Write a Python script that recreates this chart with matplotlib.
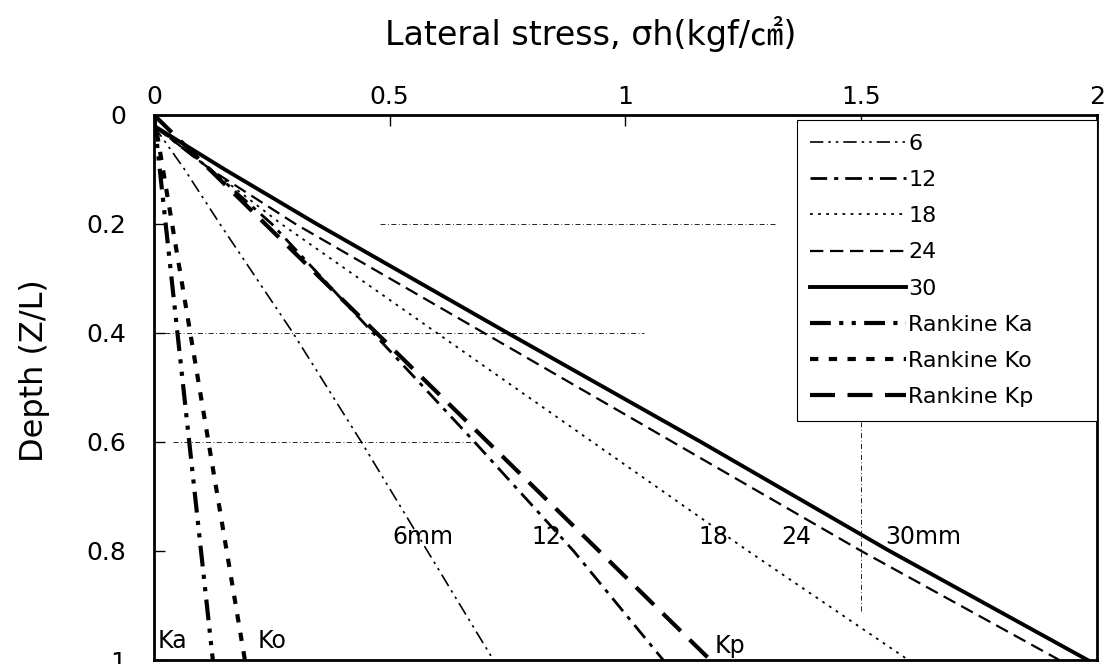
import matplotlib
matplotlib.use("Agg")
import matplotlib.pyplot as plt

plt.rcParams['font.family'] = ['DejaVu Sans', 'Noto Sans CJK KR']

# depth ratio Z/L where the measured profiles were read
depth = [0.02, 0.1, 0.2, 0.4, 0.6, 0.8, 1.0]
# lateral stress (kgf/cm2) per wall displacement (mm)
s6 = [0.0, 0.065, 0.14, 0.295, 0.44, 0.58, 0.72]
s12 = [0.0, 0.12, 0.25, 0.465, 0.68, 0.89, 1.08]
s18 = [0.0, 0.12, 0.27, 0.60, 0.93, 1.26, 1.60]
s24 = [0.0, 0.12, 0.30, 0.70, 1.10, 1.50, 1.92]
s30 = [0.0, 0.15, 0.345, 0.75, 1.16, 1.56, 1.98]

# Rankine earth pressure lines
rk_depth = [0.0, 1.0]
ka = [0.0, 0.125]
ko = [0.0, 0.193]
kp = [0.0, 1.18]

fig = plt.figure(figsize=(11.07, 6.64), dpi=100)
ax = fig.add_axes([0.139, 0.006, 0.852, 0.821])

ax.plot(s6, depth, color='black', lw=1.2, ls=(0, (8, 3, 1.5, 3, 1.5, 3)), label='6')
ax.plot(s12, depth, color='black', lw=2.0, ls=(0, (6, 2.5, 1.5, 2.5)), label='12')
ax.plot(s18, depth, color='black', lw=1.3, ls=(0, (1.5, 3)), label='18')
ax.plot(s24, depth, color='black', lw=1.6, ls=(0, (6, 3)), label='24')
ax.plot(s30, depth, color='black', lw=2.8, ls='-', label='30')
ax.plot(ka, rk_depth, color='black', lw=3.0, ls=(0, (5, 2, 1, 2, 1, 2)), label='Rankine Ka')
ax.plot(ko, rk_depth, color='black', lw=3.0, ls=(0, (2, 2.5)), label='Rankine Ko')
ax.plot(kp, rk_depth, color='black', lw=3.0, ls=(0, (6, 3)), label='Rankine Kp')

# faint broken grid pieces as in the scanned figure
gkw = dict(color='black', lw=0.6, ls=(0, (6, 3, 1, 3)))
ax.axhline(0.2, xmin=0.24, xmax=0.66, **gkw)
ax.axhline(0.4, xmin=0.0, xmax=0.52, **gkw)
ax.axhline(0.6, xmin=0.02, xmax=0.34, **gkw)
ax.axvline(1.5, ymin=0.09, ymax=0.44, **gkw)

ax.set_xlim(0, 2)
ax.set_ylim(1, 0)
ax.xaxis.tick_top()
ax.xaxis.set_label_position('top')
ax.set_xticks([0, 0.5, 1, 1.5, 2])
ax.set_xticklabels(['0', '0.5', '1', '1.5', '2'])
ax.set_yticks([0, 0.2, 0.4, 0.6, 0.8, 1])
ax.set_yticklabels(['0', '0.2', '0.4', '0.6', '0.8', '1'])
ax.tick_params(axis='x', direction='in', length=8, width=1, pad=4, labelsize=18)
ax.tick_params(axis='y', direction='in', length=8, width=1, pad=20, labelsize=18)
for sp in ax.spines.values():
    sp.set_linewidth(2)

ax.set_xlabel('Lateral stress, σh(kgf/㎠)', fontsize=24)
ax.xaxis.set_label_coords(0.463, 1.115)
ax.xaxis.label.set_verticalalignment('bottom')
ax.set_ylabel('Depth (Z/L)', fontsize=23)
ax.yaxis.set_label_coords(-0.11, 0.53)

lbl = dict(fontsize=17, color='black', va='center')
ax.text(0.505, 0.775, '6mm', **lbl)
ax.text(0.80, 0.775, '12', **lbl)
ax.text(1.155, 0.775, '18', **lbl)
ax.text(1.33, 0.775, '24', **lbl)
ax.text(1.55, 0.775, '30mm', **lbl)
ax.text(0.008, 0.965, 'Ka', **lbl)
ax.text(0.22, 0.965, 'Ko', **lbl)
ax.text(1.19, 0.975, 'Kp', **lbl)

leg = ax.legend(loc='upper left', bbox_to_anchor=(0.682, 0.98, 0.318, 0.01), mode='expand',
                borderaxespad=0, fontsize=16, handlelength=4.3, handletextpad=0.1,
                labelspacing=0.73, borderpad=0.6, fancybox=False, framealpha=1)
leg.get_frame().set_edgecolor('black')
leg.get_frame().set_linewidth(0.8)

fig.savefig('out.png', dpi=100)
